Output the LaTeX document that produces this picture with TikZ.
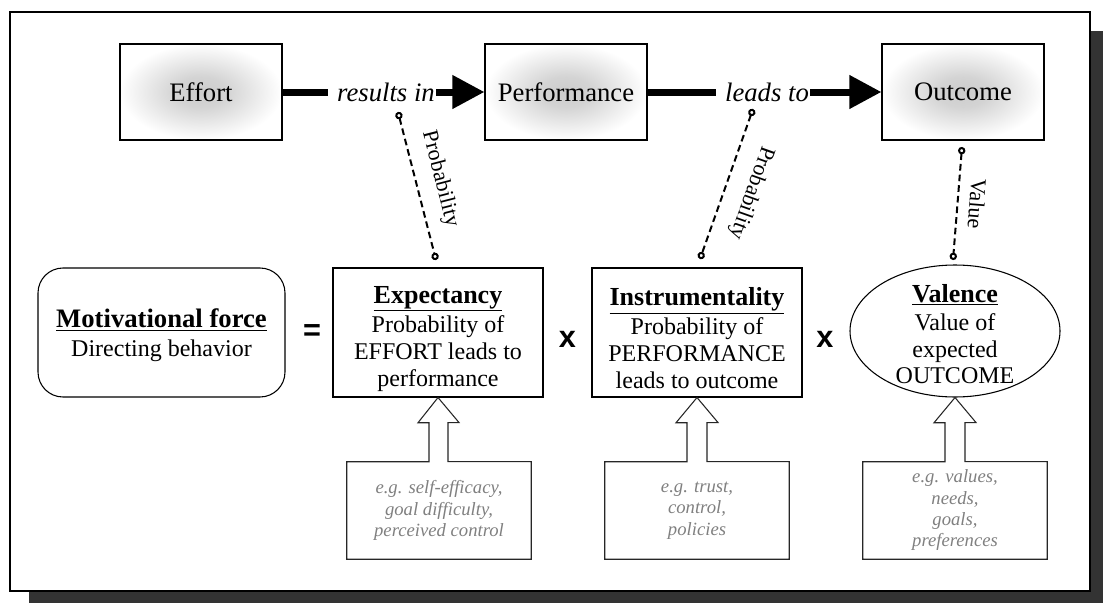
\documentclass[tikz,border=0pt]{standalone}
\usepackage{fontspec}
\setmainfont{Liberation Serif}
\newfontfamily\opfont{Liberation Sans}
\usetikzlibrary{shapes, arrows.meta, positioning}

\pgfdeclareradialshading{boxglow}{\pgfpoint{0bp}{0bp}}{color(0bp)=(black!20); color(8bp)=(black!17); color(25bp)=(white); color(50bp)=(white)}
\newcommand{\termtitle}[1]{{\fontsize{19.5}{21}\selectfont\bfseries\rule{0pt}{22pt}\underline{#1}}}

\begin{document}
\begin{tikzpicture}[x=0.75pt, y=-0.75pt,
stagebox/.style={rectangle, draw, line width=0.8pt, shade, shading=boxglow, minimum width=121.5pt, minimum height=72pt, font=\fontsize{20}{24}\selectfont},
linklabel/.style={font=\itshape\fontsize{20}{24}\selectfont, inner sep=1pt},
bigline/.style={line width=5.25pt},
bigarrow/.style={line width=5.25pt, -{Triangle[length=24pt,width=24pt]}},
probline/.style={line width=1.5pt, dash pattern=on 5pt off 3pt, {Circle[open,length=5.5pt]}-{Circle[open,length=5.5pt]}},
problabel/.style={font=\fontsize{16.5}{18}\selectfont, inner sep=1pt},
termbox/.style={rectangle, draw, line width=0.8pt, align=center, minimum width=157.5pt, minimum height=96.75pt, font=\fontsize{18}{20.25}\selectfont},
termtext/.style={align=center, inner sep=0pt, font=\fontsize{18}{20}\selectfont},
opsign/.style={font=\opfont\bfseries\fontsize{23}{23}\selectfont, inner sep=0pt},
notebox/.style={rectangle, minimum width=138pt, minimum height=72.75pt, align=center, text=black!50, font=\itshape\fontsize{14}{16}\selectfont},
callout/.style={draw, black!85, line width=0.8pt, line join=miter},
]
\useasboundingbox (0,0) rectangle (1103,603);

%Frame
\fill[black!80] (29,31) rectangle (1103,603);
\draw[fill=white, line width=1.1pt] (10,12) rectangle (1090,591);

%Top row
\node[stagebox]  (effort)  at (201,92) {Effort};
\node[stagebox]  (perf)    at (566,92) {Performance};
\node[stagebox]  (outcome) at (963,92) {Outcome};
\node[linklabel] (res)     at (386,92) {results in};
\node[linklabel] (leads)   at (767,92) {leads to};

\draw[bigline]  (effort.east) -- ([xshift=-6pt]res.west);
\draw[bigarrow] (res.east) -- (perf.west);
\draw[bigline]  (perf.east) -- ([xshift=-6pt]leads.west);
\draw[bigarrow] (leads.east) -- (outcome.west);

%Bottom row
\node[termbox, rounded corners=18.75pt, minimum width=185.25pt] (force) at (161.5,332.5)
  {{\fontsize{20}{22}\selectfont\bfseries\rule{0pt}{18pt}\underline{Motivational force}}\\[1pt]{\fontsize{18}{20}\selectfont Directing behavior}};
\node[opsign] (eq) at (312,332.5) {=};
\node[termbox] (exp) at (438,332.5) {\termtitle{Expectancy}\\[1.5pt]Probability of\\EFFORT leads to\\performance};
\node[opsign] (times1) at (567.5,339) {x};
\node[termbox] (instr) at (697,332.5) {\termtitle{Instrumentality}\\[1.5pt]Probability of\\PERFORMANCE\\leads to outcome};
\node[opsign] (times2) at (825,339) {x};
\node[ellipse, draw, line width=0.8pt, minimum width=157.5pt, minimum height=99pt, inner sep=0pt] (val) at (955,331) {};
\node[termtext] (valtext) at (955,328.5) {\termtitle{Valence}\\[1pt]Value of\\expected\\OUTCOME};

%Dashed links
\coordinate (p1top) at (398,112);
\coordinate (p1bot) at (436,260);
\coordinate (p2top) at (753,109);
\coordinate (p2bot) at (700,259);
\coordinate (p3top) at (962,147);
\coordinate (p3bot) at (953,260);
\draw[probline] (p1top) -- (p1bot);
\draw[probline] (p2top) -- (p2bot);
\draw[probline] (p3top) -- (p3bot);
\node[problabel, rotate=-75.6]  (prob1)    at (440,179) {Probability};
\node[problabel, rotate=-109.5] (prob2)    at (751,193) {Probability};
\node[problabel, rotate=-94.6]  (valuelbl) at (977,204) {Value};

%Influences
\node[notebox] (expnote)   at (439,510.5) {e.g. self-efficacy,\\goal difficulty,\\perceived control};
\node[notebox] (instrnote) at (697,510.5) {e.g. trust,\\control,\\policies};
\node[notebox] (valnote)   at (955,510.5) {e.g. values,\\needs,\\goals,\\preferences};

\draw[callout] (expnote.north) ++(-10,0) -- ++(0,-39) -- ++(-11,0) -- (exp.south) -- ++(21,25) -- ++(-11,0) -- ++(0,39) -| (expnote.south east) -| (expnote.north west) -- cycle;
\draw[callout] (instrnote.north) ++(-10,0) -- ++(0,-39) -- ++(-11,0) -- (instr.south) -- ++(21,25) -- ++(-11,0) -- ++(0,39) -| (instrnote.south east) -| (instrnote.north west) -- cycle;
\draw[callout] (valnote.north) ++(-10,0) -- ++(0,-39) -- ++(-11,0) -- (val.south) -- ++(21,25) -- ++(-11,0) -- ++(0,39) -| (valnote.south east) -| (valnote.north west) -- cycle;
\end{tikzpicture}
\end{document}
